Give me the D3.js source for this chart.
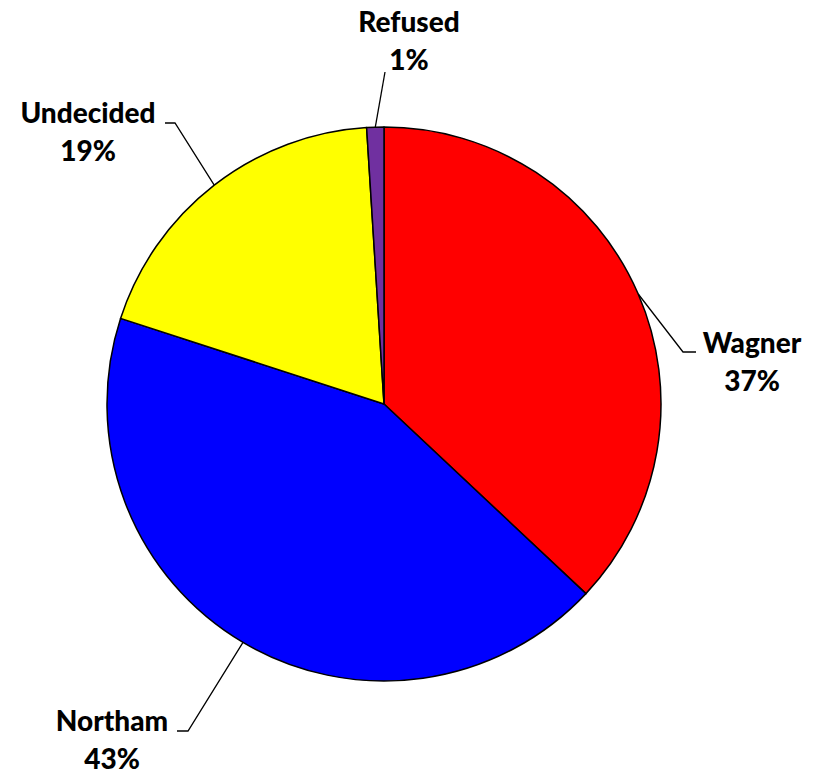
<!DOCTYPE html>
<html><head><meta charset="utf-8">
<script src="https://cdn.jsdelivr.net/npm/d3@7"></script>
<style>body{margin:0;background:#fff}svg{display:block}</style>
</head><body>
<svg id="c" width="817" height="774"></svg>
<script>
const categories = ["Wagner", "Northam", "Undecided", "Refused"];
const values = [37, 43, 19, 1];
const labels = ["37%", "43%", "19%", "1%"];
const colors = ["#FF0000", "#0000FF", "#FFFF00", "#7030A0"];

const W = 817, H = 774, cx = 384, cy = 404, R = 277;
const svg = d3.select("#c");
const g = svg.append("g").attr("transform", `translate(${cx},${cy})`);
const pie = d3.pie().sort(null).value(d => d.v);
const data = categories.map((c, i) => ({c, v: values[i], l: labels[i], col: colors[i]}));
const arcs = pie(data);
const arc = d3.arc().innerRadius(0).outerRadius(R);

g.selectAll("path.s").data(arcs).join("path")
  .attr("d", arc).attr("fill", d => d.data.col)
  .attr("stroke", "#000").attr("stroke-width", 1.5).attr("stroke-linejoin", "round");

const place = {
  Wagner:   {tx: 752, ty: 353, elbow: [683, 352], end: [696, 352]},
  Northam:  {tx: 112, ty: 731, elbow: [188, 731], end: [177, 731]},
  Undecided:{tx: 88,  ty: 123, elbow: [175, 123], end: [165, 123]},
  Refused:  {tx: 409, ty: 32,  elbow: null, end: [385, 72]}
};
const lg = svg.append("g");
arcs.forEach(a => {
  const p = place[a.data.c];
  const mid = (a.startAngle + a.endAngle) / 2;
  const sx = cx + R * Math.sin(mid), sy = cy - R * Math.cos(mid);
  const pts = [[sx, sy]];
  if (p.elbow) pts.push(p.elbow);
  pts.push(p.end);
  lg.append("path").attr("d", d3.line()(pts)).attr("fill", "none")
    .attr("stroke", "#000").attr("stroke-width", 1.3);
  const t = lg.append("text").attr("text-anchor", "middle")
    .attr("font-family", "Lato, 'Open Sans', sans-serif").attr("font-weight", 900)
    .attr("font-size", 28).attr("fill", "#000");
  t.append("tspan").attr("x", p.tx).attr("y", p.ty).text(a.data.c);
  t.append("tspan").attr("x", p.tx).attr("y", p.ty + 38).text(a.data.l);
});
</script>
</body></html>
